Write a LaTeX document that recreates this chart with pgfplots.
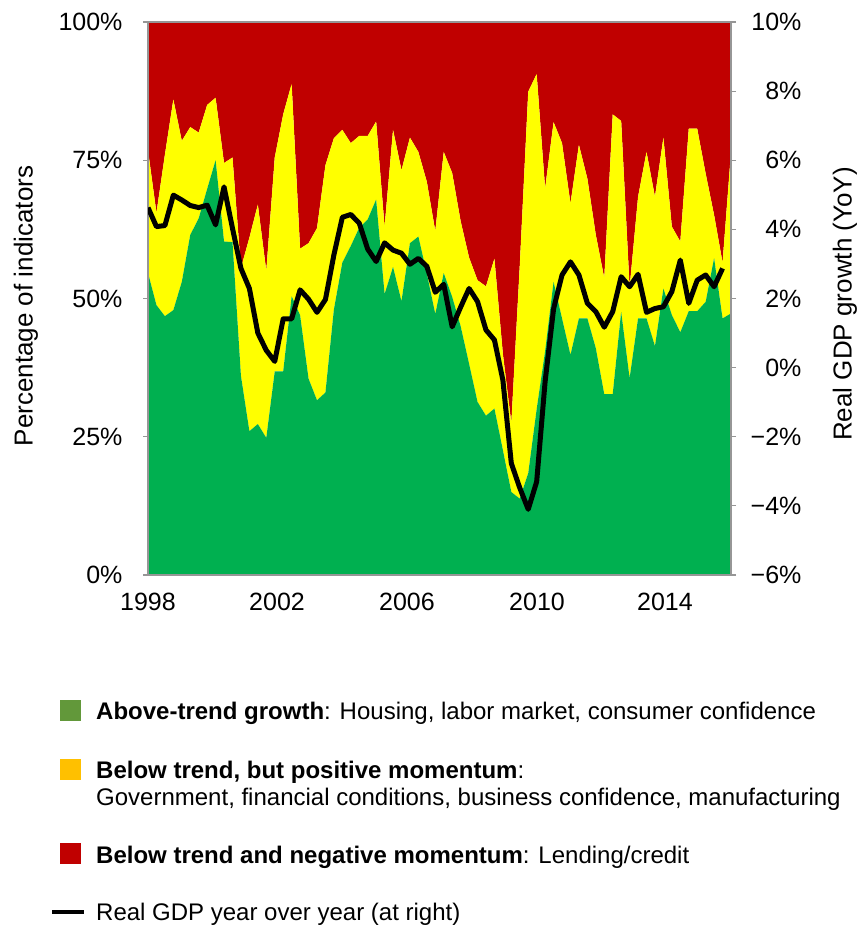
\documentclass[border=0pt]{standalone}
\usepackage{fontspec}
\setmainfont{Liberation Sans}
\usepackage{pgfplots}
\usepackage{pgfplotstable}
\pgfplotsset{compat=1.18}
\definecolor{cGreen}{RGB}{0,176,80}
\definecolor{cYellow}{RGB}{255,255,0}
\definecolor{cRed}{RGB}{192,0,0}
\definecolor{lGreen}{RGB}{98,152,58}
\definecolor{lYellow}{RGB}{255,192,0}
\definecolor{axGray}{RGB}{150,150,150}

% shares of indicators (percent): above trend, below trend + positive momentum, below trend + negative momentum
\pgfplotstableread{
i g y r
0 54.6 22.2 23.2
1 48.8 16.7 34.5
2 46.8 29.2 24.0
3 47.9 38.1 14.0
4 53.0 25.5 21.5
5 61.5 19.5 19.0
6 64.5 15.5 20.0
7 69.8 15.2 15.0
8 75.0 11.3 13.7
9 60.3 14.2 25.5
10 60.2 15.3 24.5
11 36.0 19.5 44.5
12 26.0 35.0 39.0
13 27.3 39.7 33.0
14 24.8 30.2 45.0
15 36.8 38.7 24.5
16 36.8 46.5 16.7
17 50.4 38.4 11.2
18 47.0 12.0 41.0
19 35.5 24.5 40.0
20 31.6 31.1 37.3
21 33.0 41.1 25.9
22 48.0 31.0 21.0
23 56.5 24.0 19.5
24 59.5 18.6 21.9
25 62.8 16.6 20.6
26 64.3 15.1 20.6
27 67.9 14.1 18.0
28 50.8 12.2 37.0
29 55.7 24.8 19.5
30 49.5 23.7 26.8
31 60.0 19.1 20.9
32 61.2 15.3 23.5
33 54.5 16.6 28.9
34 47.2 15.0 37.8
35 54.6 21.9 23.5
36 50.3 22.4 27.3
37 45.0 19.0 36.0
38 38.2 19.2 42.6
39 31.3 22.0 46.7
40 28.8 23.4 47.8
41 30.1 27.1 42.8
42 22.6 17.4 60.0
43 15.0 12.5 72.5
44 13.8 42.2 44.0
45 18.4 69.0 12.6
46 30.0 60.6 9.4
47 40.5 29.4 30.1
48 53.0 28.9 18.1
49 46.4 31.7 21.9
50 39.8 27.4 32.8
51 46.4 31.4 22.2
52 46.4 25.3 28.3
53 41.0 20.5 38.5
54 32.7 21.0 46.3
55 32.7 50.6 16.7
56 47.6 34.5 17.9
57 35.6 16.4 48.0
58 46.4 22.0 31.6
59 46.4 30.1 23.5
60 41.4 27.0 31.6
61 51.8 27.3 20.9
62 47.0 16.0 37.0
63 43.9 16.4 39.7
64 47.7 33.0 19.3
65 47.7 33.0 19.3
66 49.4 23.2 27.4
67 57.3 7.8 34.9
68 46.4 10.1 43.5
69 47.3 29.2 23.5
}\shares

% real GDP growth, year over year (percent)
\pgfplotstableread{
i gdp
0 4.63
1 4.08
2 4.11
3 4.99
4 4.85
5 4.69
6 4.63
7 4.70
8 4.13
9 5.23
10 4.03
11 2.87
12 2.29
13 1.00
14 0.50
15 0.18
16 1.41
17 1.41
18 2.25
19 1.98
20 1.60
21 1.97
22 3.26
23 4.35
24 4.43
25 4.18
26 3.43
27 3.07
28 3.61
29 3.40
30 3.31
31 2.99
32 3.16
33 2.93
34 2.18
35 2.41
36 1.18
37 1.75
38 2.29
39 1.91
40 1.09
41 0.80
42 -0.36
43 -2.77
44 -3.48
45 -4.10
46 -3.30
47 -0.40
48 1.70
49 2.68
50 3.06
51 2.68
52 1.86
53 1.62
54 1.17
55 1.62
56 2.63
57 2.34
58 2.70
59 1.60
60 1.71
61 1.76
62 2.20
63 3.11
64 1.86
65 2.53
66 2.68
67 2.34
68 2.87
}\gdp

\begin{document}
\begin{tikzpicture}[x=1pt,y=1pt]
\useasboundingbox (0,0) rectangle (860,925);
\pgfplotsset{
  common/.style={
    scale only axis, width=583pt, height=553pt,
    at={(148pt,350pt)}, anchor=south west,
    xmin=0, xmax=69,
    tick label style={font=\fontsize{25}{30}\selectfont},
    axis line style={axGray, line width=1.3pt},
    major tick length=5pt, tick align=outside,
    every tick/.style={axGray, line width=1.2pt},
  }
}
\begin{axis}[common,
  ymin=0, ymax=100,
  stack plots=y, area style,
  axis on top,
  ytick={0,25,50,75,100},
  yticklabels={0\%,25\%,50\%,75\%,100\%},
  ytick pos=left,
  yticklabel style={xshift=-17pt},
  xtick={0,15.27,30.65,46.04,61.18},
  xticklabels={1998,2002,2006,2010,2014},
  xtick pos=bottom,
  xtick style={draw=none},
  xticklabel style={yshift=-10pt},
]
\addplot[fill=cGreen, draw=none] table[x=i, y=g] {\shares} \closedcycle;
\addplot[fill=cYellow, draw=none] table[x=i, y=y] {\shares} \closedcycle;
\addplot[fill=cRed, draw=none] table[x=i, y=r] {\shares} \closedcycle;
\end{axis}
\begin{axis}[common,
  ymin=-6, ymax=10,
  axis x line=none,
  axis y line*=right,
  ytick={-6,-4,-2,0,2,4,6,8,10},
  yticklabels={−6\%,−4\%,−2\%,0\%,2\%,4\%,6\%,8\%,10\%},
  yticklabel style={anchor=east, xshift=69pt},
]
\addplot[black, line width=5pt, line join=round, no marks] table[x=i, y=gdp] {\gdp};
\end{axis}
% axis titles
\node[rotate=90, font=\fontsize{26}{30}\selectfont] at (26,619) {Percentage of indicators};
\node[rotate=90, font=\fontsize{26}{30}\selectfont] at (845,621) {Real GDP growth (YoY)};
% legend
\begin{scope}[every node/.style={inner sep=0pt, anchor=base west, font=\fontsize{24}{28}\selectfont}]
\fill[lGreen] (60,204) rectangle (81,225);
\node at (96,205) {\textbf{Above-trend growth}: Housing, labor market, consumer confidence};
\fill[lYellow] (60,145) rectangle (81,166);
\node at (96,146.5) {\textbf{Below trend, but positive momentum}:};
\node at (96,119) {Government, financial conditions, business confidence, manufacturing};
\fill[cRed] (60,61) rectangle (81,82);
\node at (96,61) {\textbf{Below trend and negative momentum}: Lending/credit};
\draw[black, line width=4.5pt] (52,13) -- (84,13);
\node at (96,4.5) {Real GDP year over year (at right)};
\end{scope}
\end{tikzpicture}
\end{document}
